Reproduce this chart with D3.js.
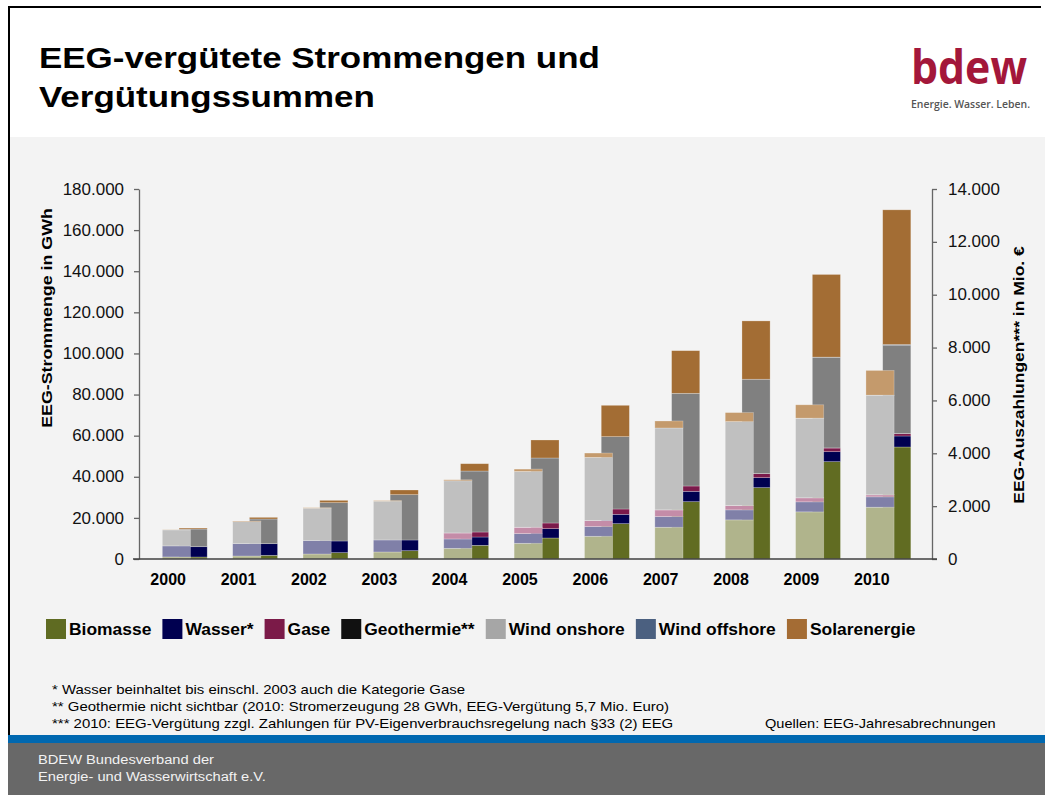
<!DOCTYPE html>
<html>
<head>
<meta charset="utf-8">
<script src="https://cdn.jsdelivr.net/npm/d3@7"></script>
<style>
  body { margin: 0; background: #fff; }
  svg { display: block; font-family: "Liberation Sans", Arial, sans-serif; }
</style>
</head>
<body>
<svg id="vis" width="1045" height="795"></svg>
<script>
// --- data ---
const years = ["2000","2001","2002","2003","2004","2005","2006","2007","2008","2009","2010"];
const categories = ["Biomasse","Wasser*","Gase","Geothermie**","Wind onshore","Wind offshore","Solarenergie"];

// Strommenge in GWh (left bars)
const biomasseGWh = [1000, 1460, 2440, 3415, 5200, 7640, 11060, 15450, 19025, 22930, 25200];
const wasserGWh   = [5370, 6000, 6500, 5850, 4550, 4715, 4715, 5200, 4880, 4880, 5040];
const gaseGWh     = [0, 0, 0, 0, 2930, 3090, 2930, 3250, 2110, 1950, 975];
const geoGWh      = [0, 0, 0, 0, 0.2, 0.2, 0.4, 0.4, 18, 19, 28];
const windOnGWh   = [7800, 10730, 15770, 18860, 25370, 27150, 30730, 39830, 40810, 38700, 48290];
const windOffGWh  = [0, 0, 0, 0, 0, 0, 0, 0, 0, 38, 174];
const solarGWh    = [100, 300, 250, 300, 500, 1140, 2110, 3415, 4390, 6500, 12030];

// Auszahlungen in Mio. EUR (right bars)
const biomasseEUR = [76, 139, 240, 315, 517, 795, 1337, 2169, 2700, 3683, 4238];
const wasserEUR   = [390, 441, 441, 404, 315, 353, 353, 391, 378, 378, 416];
const gaseEUR     = [0, 0, 0, 0, 189, 214, 202, 202, 151, 139, 88];
const geoEUR      = [0, 0, 0, 0, 0, 0, 0, 0, 2.7, 2.9, 5.7];
const windOnEUR   = [668, 933, 1450, 1715, 2308, 2460, 2737, 3507, 3570, 3430, 3342];
const windOffEUR  = [0, 0, 0, 0, 0, 0, 0, 0, 0, 5.6, 26];
const solarEUR    = [38, 63, 88, 177, 277, 681, 1186, 1614, 2207, 3128, 5096];

const leftTicks  = [0, 20000, 40000, 60000, 80000, 100000, 120000, 140000, 160000, 180000];
const rightTicks = [0, 2000, 4000, 6000, 8000, 10000, 12000, 14000];

const titleLines = ["EEG-vergütete Strommengen und", "Vergütungssummen"];
const footnotes = [
  "* Wasser beinhaltet bis einschl. 2003 auch die Kategorie Gase",
  "** Geothermie nicht sichtbar (2010: Stromerzeugung 28 GWh, EEG-Vergütung 5,7 Mio. Euro)",
  "*** 2010: EEG-Vergütung zzgl. Zahlungen für PV-Eigenverbrauchsregelung nach §33 (2) EEG"
];
const footerLines = ["BDEW Bundesverband der", "Energie- und Wasserwirtschaft e.V."];

// --- colours ---
const darkColors  = ["#616c22", "#000050", "#7b1a4b", "#111111", "#808080", "#4b6080", "#a36d34"];
const lightColors = ["#b0b48c", "#8080a8", "#c48ca8", "#707070", "#c0c0c0", "#a0b0c8", "#c49a6c"];
const legendColors = ["#5f6b22", "#000050", "#7b1a48", "#111111", "#a6a6a6", "#4b6080", "#a46c34"];

const svg = d3.select("#vis");
const de = d3.formatLocale({decimal: ",", thousands: ".", grouping: [3], currency: ["", " €"]});
const fmt = de.format(",d");

// the slide text is wider than plain Arial: scale the glyphs horizontally
const widen = (sel, f) => sel.each(function() {
  const t = d3.select(this);
  const x0 = +t.attr("x"), y0 = +t.attr("y");
  t.attr("x", 0).attr("y", 0).attr("transform", `translate(${x0},${y0}) scale(${f},1)`);
});
const stretch = (sel, f) => sel.each(function() {
  const w = this.getComputedTextLength();
  d3.select(this).attr("textLength", w * f).attr("lengthAdjust", "spacingAndGlyphs");
});

// page frame
svg.append("rect").attr("x", 10).attr("y", 137).attr("width", 1035).attr("height", 598).attr("fill", "#f3f3f3");
svg.append("line").attr("x1", 8).attr("x2", 1041).attr("y1", 7).attr("y2", 7).attr("stroke", "#000").attr("stroke-width", 2);
svg.append("line").attr("x1", 9).attr("x2", 9).attr("y1", 6).attr("y2", 735).attr("stroke", "#000").attr("stroke-width", 2);
svg.append("rect").attr("x", 8).attr("y", 735).attr("width", 1037).attr("height", 8).attr("fill", "#0068b0");
svg.append("rect").attr("x", 8).attr("y", 743).attr("width", 1037).attr("height", 52).attr("fill", "#686868");

// title
svg.selectAll(".title").data(titleLines).join("text").attr("class", "title")
  .attr("x", 39).attr("y", (d, i) => 68 + i * 39)
  .attr("font-size", 30).attr("font-weight", "bold").attr("fill", "#000")
  .text(d => d)
  .call(widen, 1.165);

// logo
svg.append("text").attr("x", 911).attr("y", 84).attr("font-family", "'Open Sans', sans-serif")
  .attr("font-size", 46).attr("font-weight", 700).attr("fill", "#a3173a")
  .attr("textLength", 116).attr("lengthAdjust", "spacingAndGlyphs").text("bdew");
svg.append("text").attr("x", 911).attr("y", 108).attr("font-family", "'Open Sans', sans-serif")
  .attr("font-size", 10.5).attr("font-weight", 600).attr("fill", "#555")
  .attr("textLength", 119).attr("lengthAdjust", "spacingAndGlyphs").text("Energie. Wasser. Leben.");

// scales
const x = d3.scaleBand().domain(years).range([140, 914]);
const step = x.step();
const yL = d3.scaleLinear().domain([0, 180000]).range([559, 189]);
const yR = d3.scaleLinear().domain([0, 14000]).range([559, 189]);

const makeRows = series => years.map((yr, i) => {
  const r = {year: yr};
  categories.forEach((c, k) => r[c] = series[k][i]);
  return r;
});
const rowsGWh = makeRows([biomasseGWh, wasserGWh, gaseGWh, geoGWh, windOnGWh, windOffGWh, solarGWh]);
const rowsEUR = makeRows([biomasseEUR, wasserEUR, gaseEUR, geoEUR, windOnEUR, windOffEUR, solarEUR]);
const stack = d3.stack().keys(categories);

const barW = step * 0.40;
const drawBars = (rows, yScale, colors, offset, cls) => {
  svg.append("g").attr("class", cls)
    .selectAll("g").data(stack(rows)).join("g")
      .attr("fill", (d, i) => colors[i])
    .selectAll("rect").data(d => d).join("rect")
      .attr("x", d => x(d.data.year) + step * offset)
      .attr("y", d => yScale(d[1]))
      .attr("width", barW)
      .attr("height", d => Math.max(0, yScale(d[0]) - yScale(d[1])))
      .attr("stroke", "rgba(255,255,255,0.35)")
      .attr("stroke-width", 0.7);
};
// payments behind, amounts in front
drawBars(rowsEUR, yR, darkColors, 0.555, "eur");
drawBars(rowsGWh, yL, lightColors, 0.317, "gwh");

// axes
const axL = svg.append("g").attr("transform", "translate(139,0)")
  .call(d3.axisLeft(yL).tickValues(leftTicks).tickFormat(fmt).tickSize(5).tickSizeOuter(0).tickPadding(10));
const axR = svg.append("g").attr("transform", "translate(932,0)")
  .call(d3.axisRight(yR).tickValues(rightTicks).tickFormat(fmt).tickSize(5).tickSizeOuter(0).tickPadding(11));
[axL, axR].forEach(a => {
  a.selectAll("path, line").attr("stroke", "#666").attr("stroke-width", 1.3);
  a.selectAll("text").attr("font-size", 16).attr("fill", "#111")
    .attr("font-family", "'Liberation Sans', Arial, sans-serif")
    .call(stretch, 1.06);
});
svg.append("line").attr("x1", 133).attr("x2", 937).attr("y1", 559).attr("y2", 559)
  .attr("stroke", "#404040").attr("stroke-width", 1.6);

const axB = svg.append("g").attr("transform", `translate(${step * 0.40 - step / 2},566)`)
  .call(d3.axisBottom(x).tickSize(0).tickPadding(8));
axB.select(".domain").remove();
axB.selectAll("text").attr("font-size", 16).attr("font-weight", "bold").attr("fill", "#000")
  .attr("font-family", "'Liberation Sans', Arial, sans-serif");

// axis titles
svg.append("text").attr("transform", "translate(52,318) rotate(-90) scale(1.15,1)").attr("text-anchor", "middle")
  .attr("font-size", 15.5).attr("font-weight", "bold").text("EEG-Strommenge in GWh");
svg.append("text").attr("transform", "translate(1024,375) rotate(-90) scale(1.13,1)").attr("text-anchor", "middle")
  .attr("font-size", 15.5).attr("font-weight", "bold").text("EEG-Auszahlungen*** in Mio. €");

// legend
const legF = 1.09;
let lx = 46;
categories.forEach((c, i) => {
  const g = svg.append("g");
  g.append("rect").attr("x", lx).attr("y", 619).attr("width", 20).attr("height", 20).attr("fill", legendColors[i]);
  const t = g.append("text").attr("x", lx + 23).attr("y", 635).attr("font-size", 16).attr("font-weight", "bold").text(c);
  const w = t.node().getComputedTextLength() * legF;
  t.call(widen, legF);
  lx += 23 + w + 11;
});

// footnotes
svg.selectAll(".fn").data(footnotes).join("text").attr("class", "fn")
  .attr("x", 52).attr("y", (d, i) => 694 + i * 17).attr("font-size", 13).attr("fill", "#000")
  .text(d => d).call(widen, 1.15);
svg.append("text").attr("x", 765).attr("y", 728).attr("font-size", 13).text("Quellen: EEG-Jahresabrechnungen")
  .call(widen, 1.12);

// footer
svg.selectAll(".foot").data(footerLines).join("text").attr("class", "foot")
  .attr("x", 38).attr("y", (d, i) => 764 + i * 17).attr("font-size", 13.5).attr("fill", "#f2f2f2")
  .text(d => d).call(widen, 1.087);
</script>
</body>
</html>
